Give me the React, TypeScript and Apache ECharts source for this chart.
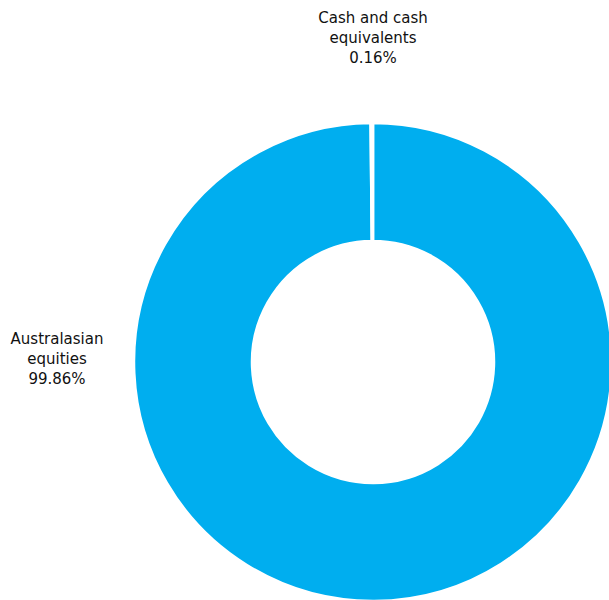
import React, { useEffect, useRef } from "react";
import * as echarts from "echarts";

const categories = ["Australasian\nequities", "Cash and cash\nequivalents"];
const values = [99.86, 0.16];
const valueLabels = ["99.86%", "0.16%"];

export default function App() {
  const ref = useRef<HTMLDivElement>(null);
  useEffect(() => {
    if (!ref.current) return;
    const chart = echarts.init(ref.current, null, { renderer: "svg" });
    const labelPos = [
      { x: 57, y: 359 },
      { x: 373, y: 38 },
    ];
    chart.setOption({
      animation: false,
      backgroundColor: "#ffffff",
      series: [
        {
          type: "pie",
          center: [373, 362],
          radius: [121, 239],
          startAngle: 90,
          clockwise: true,
          itemStyle: { color: "#00AEEF", borderColor: "#ffffff", borderWidth: 2.5 },
          label: {
            show: true,
            position: "outside",
            formatter: (p: any) => `${p.name}\n${valueLabels[p.dataIndex]}`,
            fontFamily: "DejaVu Sans",
            fontSize: 15,
            lineHeight: 20,
            color: "#111111",
            align: "center",
          },
          labelLine: { show: false },
          labelLayout: (params: any) => ({
            x: labelPos[params.dataIndex].x,
            y: labelPos[params.dataIndex].y,
            align: "center",
            verticalAlign: "middle",
          }),
          emphasis: { disabled: true },
          data: categories.map((c, i) => ({ name: c, value: values[i] })),
        },
      ],
    });
    return () => chart.dispose();
  }, []);
  return (
    <div
      ref={ref}
      style={{ position: "fixed", left: 0, top: 0, width: 609, height: 600 }}
    />
  );
}
